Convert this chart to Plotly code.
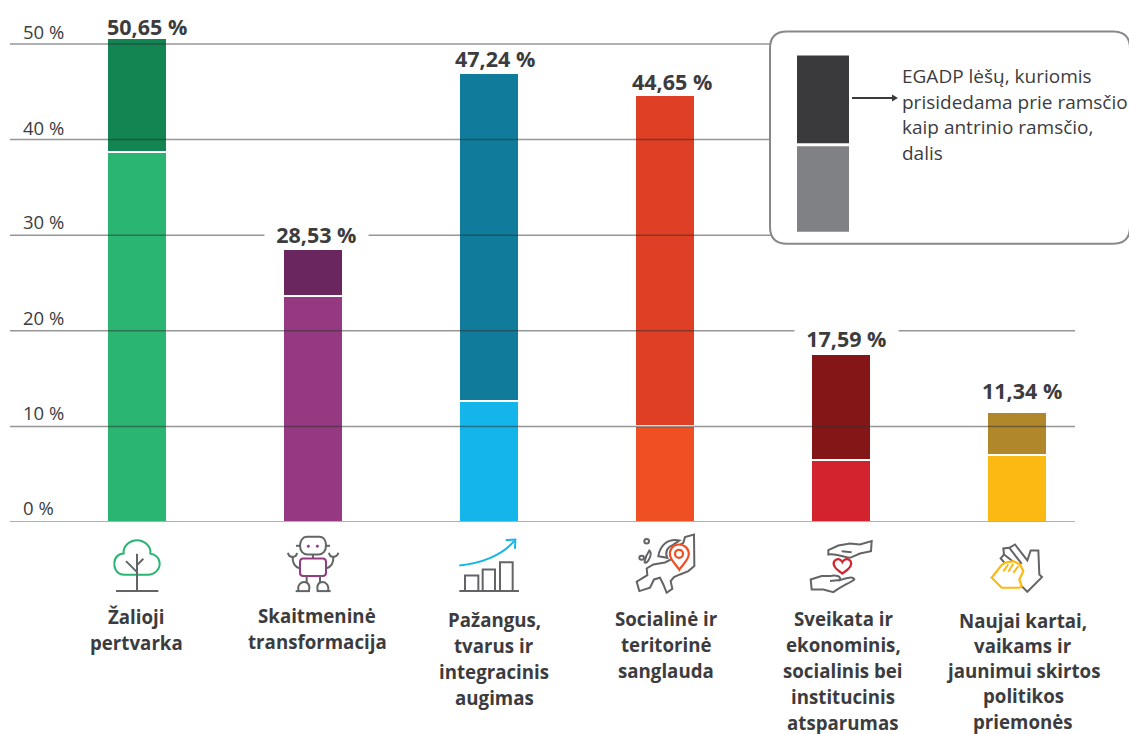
import re
import plotly.graph_objects as go

# ---------- data ----------
categories = ["Žalioji pertvarka", "Skaitmeninė transformacija", "Pažangus, tvarus ir integracinis augimas",
              "Socialinė ir teritorinė sanglauda", "Sveikata ir ekonominis, socialinis bei institucinis atsparumas",
              "Naujai kartai, vaikams ir jaunimui skirtos politikos priemonės"]
lower_values = [38.7, 23.6, 12.7, 10.0, 6.5, 7.0]
upper_values = [11.95, 4.93, 34.3, 34.65, 11.09, 4.5]
total_labels = ["50,65 %", "28,53 %", "47,24 %", "44,65 %", "17,59 %", "11,34 %"]
lower_colors = ["#2bb573", "#953a82", "#13b5ea", "#f04e23", "#d2232e", "#fdb913"]
upper_colors = ["#138552", "#6a265f", "#107b9b", "#df3f24", "#851618", "#b0882b"]
tick_values = [0, 10, 20, 30, 40, 50]
tick_labels = ["0 %", "10 %", "20 %", "30 %", "40 %", "50 %"]
category_lines = [["Žalioji", "pertvarka"], ["Skaitmeninė", "transformacija"],
                  ["Pažangus,", "tvarus ir", "integracinis", "augimas"],
                  ["Socialinė ir", "teritorinė", "sanglauda"],
                  ["Sveikata ir", "ekonominis,", "socialinis bei", "institucinis", "atsparumas"],
                  ["Naujai kartai,", "vaikams ir", "jaunimui skirtos", "politikos", "priemonės"]]
legend_lines = ["EGADP lėšų, kuriomis", "prisidedama prie ramsčio", "kaip antrinio ramsčio,", "dalis"]

# ---------- layout geometry (pixels) ----------
W, H = 1129, 734
L, R, T, B = 10, 1075, 0, 522.5
PX_PER_UNIT = 9.57
FIRST, STEP = 137, 176
TEXT = "#3c3c3e"
GREY = "#636466"
FONT = "Open Sans"

def px(x): return (x - L) / (R - L)
def py(y): return (B - y) / (B - T)

def path(d, ox=0, oy=0, k=1.0):
    toks = re.findall(r"[MLCQZ]|-?\d+\.?\d*", d)
    out, nums = [], []
    for t in toks:
        if t.isalpha():
            out.append(t)
        else:
            nums.append(float(t))
            if len(nums) == 2:
                out.append(f"{px(ox + nums[0] * k):.5f},{py(oy + nums[1] * k):.5f}")
                nums = []
    return " ".join(out)

fig = go.Figure()
fig.add_bar(x=list(range(6)), y=lower_values, marker=dict(color=lower_colors, line=dict(color="white", width=2)),
            width=60 / STEP, hovertext=categories, name="lower")
fig.add_bar(x=list(range(6)), y=upper_values, marker=dict(color=upper_colors, line=dict(color="white", width=2)),
            width=60 / STEP, hovertext=categories, name="upper")

shapes, ann = [], []

# grid lines over the bars
for v in tick_values:
    shapes.append(dict(type="line", xref="paper", yref="y", x0=0, x1=1, y0=v, y1=v,
                       line=dict(color="rgba(45,45,45,0.5)", width=1.5)))

# legend box
def rpath(x0, y0, x1, y1, r):
    return (f"M{x0 + r} {y0} L{x1 - r} {y0} Q{x1} {y0} {x1} {y0 + r} L{x1} {y1 - r} Q{x1} {y1} {x1 - r} {y1} "
            f"L{x0 + r} {y1} Q{x0} {y1} {x0} {y1 - r} L{x0} {y0 + r} Q{x0} {y0} {x0 + r} {y0} Z")
shapes.append(dict(type="path", xref="paper", yref="paper", path=path(rpath(770, 31.5, 1130, 244, 17)),
                   fillcolor="white", line=dict(color="#87888a", width=2)))
for y0, y1, c in [(55.5, 143.5, "#3a3a3c"), (146.5, 232, "#808184")]:
    shapes.append(dict(type="rect", xref="paper", yref="paper", x0=px(797), x1=px(849), y0=py(y0), y1=py(y1),
                       fillcolor=c, line=dict(width=0)))
shapes.append(dict(type="path", xref="paper", yref="paper", path=path("M852 98 L893 98"),
                   line=dict(color="#3a3a3c", width=2)))
shapes.append(dict(type="path", xref="paper", yref="paper", path=path("M892 94.5 L898 98 L892 101.5 Z"),
                   fillcolor="#3a3a3c", line=dict(width=0)))

# icons
def icon(d, ox, oy, color=GREY, fill=None, w=2):
    shapes.append(dict(type="path", xref="paper", yref="paper", path=path(d, ox, oy, 1 / 3),
                       line=dict(color=color, width=w), fillcolor=fill or "rgba(0,0,0,0)"))

GREEN, PURPLE, BLUE, ORANGE, RED, YEL = "#2bb573", "#953a82", "#13b5ea", "#f04e23", "#d2232e", "#fdb913"
# tree
o = (80, 500)
icon("M135 226 C105 226 102 200 103 190 C104 170 120 162 131 162 C128 140 150 122 171 122 C192 122 214 140 211 162 C225 164 239 175 239 192 C239 212 222 226 205 226 Z", *o, GREEN)
icon("M108 275 L235 275", *o)
icon("M171 163 L171 275", *o)
icon("M171 218 L138 185", *o)
icon("M171 197 L190 178", *o)
# robot
icon("M680 112 L718 112 C732 112 738 125 738 138 C738 155 728 165 716 165 L682 165 C670 165 660 155 660 138 C660 125 668 112 680 112 Z", *o)
icon("M648 139 L660 139", *o)
icon("M738 139 L750 139", *o)
icon("M699 165 L699 177", *o)
icon("M670 177 L728 177 C735 177 738 182 738 188 L738 220 C738 226 735 230 728 230 L670 230 C663 230 660 226 660 220 L660 188 C660 182 663 177 670 177 Z", *o, PURPLE)
for cx in (685, 712):
    icon(f"M{cx - 4} 140 C{cx - 4} 135 {cx + 4} 135 {cx + 4} 140 C{cx + 4} 145 {cx - 4} 145 {cx - 4} 140 Z", *o, PURPLE, PURPLE, 0.5)
icon("M660 207 C645 203 637 190 638 172", *o)
icon("M624 160 C626 170 632 173 638 172 C644 172 650 168 651 160", *o)
icon("M738 207 C753 203 761 190 760 172", *o)
icon("M747 160 C749 170 754 173 760 172 C766 172 773 168 775 160", *o)
icon("M680 230 L680 250", *o)
icon("M720 230 L720 250", *o)
icon("M656 275 C650 255 665 248 672 248 C684 248 692 258 686 275", *o)
icon("M714 275 C708 258 716 248 728 248 C738 248 748 258 744 275", *o)
icon("M647 275 L690 275", *o)
icon("M710 275 L752 275", *o)
# growth
icon("M1138 275 L1317 275", *o)
icon("M1155 275 L1155 228 L1195 228 L1195 275", *o)
icon("M1208 275 L1208 210 L1245 210 L1245 275", *o)
icon("M1260 275 L1260 188 L1298 188 L1298 275", *o)
icon("M1138 198 C1200 192 1265 170 1302 125", *o, BLUE)
icon("M1277 122 L1306 120 L1305 148", *o, BLUE)
# Europe
o = (630, 525)
icon("M192 30 L193 125 L175 140 L150 150 L132 158 L122 170 L127 193 L110 205 L100 180 L90 160 L72 165 L60 190 L28 200 L20 172 L52 152 L50 132 L70 120 L105 114 L125 104 L135 70 L160 55 L165 38 Z", *o)
icon("M85 95 C90 62 112 42 148 48 L128 62 C112 68 104 82 112 100 Z", *o)
icon("M43 50 C43 41 57 41 57 50 C57 59 43 59 43 50 Z", *o)
icon("M58 78 C68 88 60 100 55 108 C50 116 42 118 44 110 C46 100 50 90 58 78 Z", *o)
icon("M28 100 C28 92 42 92 42 100 C42 108 28 108 28 100 Z", *o)
icon("M147 60 C128 60 118 76 120 92 C122 108 140 122 148 136 C156 122 174 108 176 92 C178 76 166 60 147 60 Z", *o, ORANGE, "white", 2.2)
icon("M135 88 C135 72 159 72 159 88 C159 104 135 104 135 88 Z", *o, ORANGE, None, 2.2)
# caring hands
o = (800, 530)
icon("M215 35 L213 65 L180 72 L150 85 C130 85 110 70 85 75 L85 62 L115 48 L150 42 L180 45 Z", *o)
icon("M125 65 L155 68", *o)
icon("M32 150 L35 180 L70 180 L100 188 C125 170 150 160 163 150 C160 140 140 145 120 152 C125 140 105 135 90 140 L65 140 Z", *o)
icon("M90 155 L120 152", *o)
icon("M127 132 C105 118 97 105 103 95 C110 85 122 88 127 98 C132 88 145 85 152 95 C157 105 150 118 127 132 Z", *o, RED, None, 2.2)
# hands
o = (980, 535)
icon("M78 90 L62 72 L72 60 L70 42 L88 40 L105 30 L142 78 L152 48 L175 48 L178 120 L186 128 L142 172 L125 155", *o)
icon("M88 40 L125 88", *o)
icon("M72 60 L100 82", *o)
icon("M35 130 L65 92 L75 85 L100 80 L120 90 L130 110 L118 135 L125 155 L118 160 L65 160 Z", *o, YEL, "white", 2.2)
icon("M70 110 L85 90", *o, YEL)
icon("M85 112 L100 88", *o, YEL)
icon("M100 115 L115 95", *o, YEL)

# text
def text(s, x, y, size=18, bold=False, anchor="center", bg=None):
    ann.append(dict(text=f"<b>{s}</b>" if bold else s, xref="paper", yref="paper", x=px(x), y=py(y),
                    xanchor=anchor, yanchor="middle", showarrow=False, bgcolor=bg, borderpad=0,
                    font=dict(family=FONT, size=size, color=TEXT)))

tick_y = [508, 413, 318, 222, 128, 32]
for s, y in zip(tick_labels, tick_y):
    text(s, 22, y, 18.5, anchor="left")

label_x = [146.5, 316, 495, 672, 846, 1022]
label_y = [27, 235, 59, 82, 339, 391]
label_on_grid = [False, True, False, False, True, False]
for s, x, y, g in zip(total_labels, label_x, label_y, label_on_grid):
    if g:
        text("\u00a0\u00a0" + s + "\u00a0\u00a0", x, y, 21.5, True, bg="white")
    else:
        text(s, x, y, 21.5, True)

cat_x = [136, 317, 494, 666, 843, 1023]
cat_y = [617, 616, 620, 619, 619, 621]
cat_step = [26, 26, 26, 26, 26, 25.2]
for lines, x, y0, st in zip(category_lines, cat_x, cat_y, cat_step):
    for i, s in enumerate(lines):
        text(s, x, y0 + i * st, 18.7, True)

for i, s in enumerate(legend_lines):
    text(s, 901, 76 + i * 25.7, 19, anchor="left")

fig.update_layout(
    width=W, height=H, margin=dict(l=L, r=W - R, t=T, b=H - B, pad=0),
    barmode="stack", showlegend=False, plot_bgcolor="white", paper_bgcolor="white",
    xaxis=dict(range=[(L - FIRST) / STEP, (R - FIRST) / STEP], showgrid=False, zeroline=False, showticklabels=False, ticks=""),
    yaxis=dict(range=[0, (B - T) / PX_PER_UNIT], tickvals=tick_values, showgrid=False, zeroline=False, showticklabels=False, ticks=""),
    shapes=shapes, annotations=ann,
)
fig.write_html("out.html", config=dict(displayModeBar=False),
               post_script="document.body.style.margin='0';document.body.style.overflow='hidden';")
